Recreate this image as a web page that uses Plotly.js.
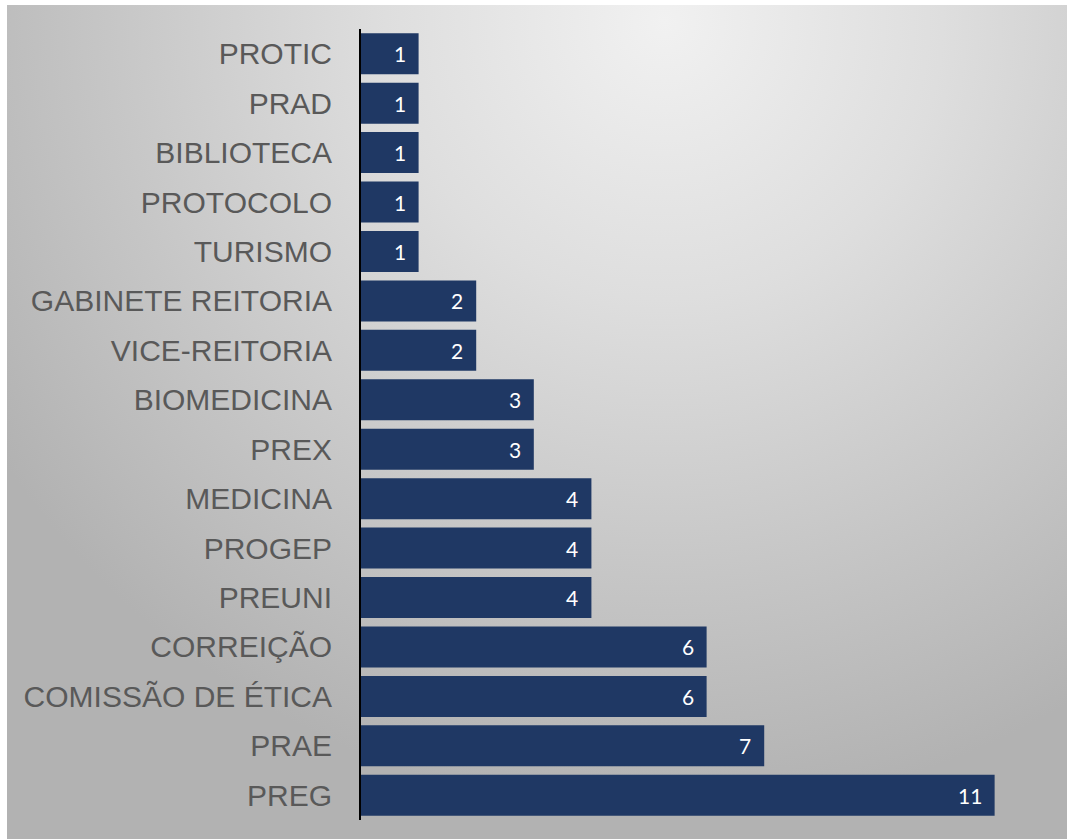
<!DOCTYPE html>
<html>
<head>
<meta charset="utf-8">
<script src="https://cdn.plot.ly/plotly-3.0.1.min.js"></script>
<style>
  html, body { margin: 0; padding: 0; background: #ffffff; }
  #bg { position: absolute; left: 7px; top: 5px; width: 1060px; height: 834px;
        background: radial-gradient(ellipse 75% 95% at 62% 2%, #f1f1f1 0%, #dedede 35%, #c6c6c6 70%, #b2b2b2 100%); }
  #chart { position: absolute; left: 0; top: 0; width: 1067px; height: 839px; }
</style>
</head>
<body>
<div id="bg"></div>
<div id="chart"></div>
<script>
const categories = ["PROTIC", "PRAD", "BIBLIOTECA", "PROTOCOLO", "TURISMO",
  "GABINETE REITORIA", "VICE-REITORIA", "BIOMEDICINA", "PREX", "MEDICINA",
  "PROGEP", "PREUNI", "CORREIÇÃO", "COMISSÃO DE ÉTICA", "PRAE", "PREG"];
const values = [1, 1, 1, 1, 1, 2, 2, 3, 3, 4, 4, 4, 6, 6, 7, 11];

const trace = {
  type: 'bar',
  orientation: 'h',
  y: categories,
  x: values,
  marker: { color: '#1f3864', line: { width: 0 } },
  hoverinfo: 'none'
};

const annotations = categories.map((c, i) => ({
  x: values[i], y: c, xref: 'x', yref: 'y',
  text: String(values[i]), showarrow: false,
  xanchor: 'right', xshift: -11, yshift: 0,
  font: { family: 'Lato, "Open Sans", sans-serif', size: 21, color: '#ffffff' }
}));

const layout = {
  width: 1067, height: 839,
  paper_bgcolor: 'rgba(0,0,0,0)',
  plot_bgcolor: 'rgba(0,0,0,0)',
  margin: { l: 361, r: 7, t: 29, b: 19 },
  bargap: 0.17,
  showlegend: false,
  xaxis: { range: [0, 12.135], showgrid: false, zeroline: false, showticklabels: false,
           showline: false, ticks: '', fixedrange: true },
  yaxis: { type: 'category', autorange: 'reversed', showgrid: false, zeroline: false,
           showline: true, linecolor: '#000000', linewidth: 2, ticks: '',
           ticklabelstandoff: 21,
           tickfont: { family: '"Liberation Sans", Arial, sans-serif', size: 30, color: '#595959' } },
  annotations: annotations
};

Plotly.newPlot('chart', [trace], layout, { displayModeBar: false, staticPlot: true });
</script>
</body>
</html>
